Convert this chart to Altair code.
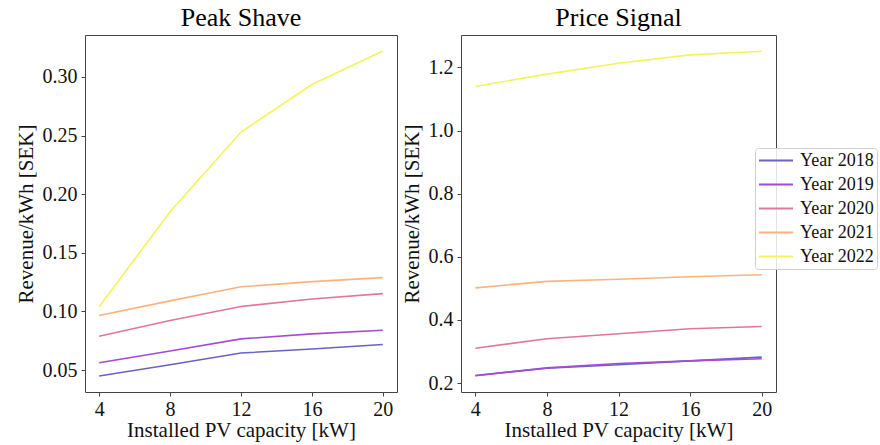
import altair as alt
import pandas as pd

# Installed PV capacity [kW]
capacity = [4, 8, 12, 16, 20]
years = ["Year 2018", "Year 2019", "Year 2020", "Year 2021", "Year 2022"]
colors = ["#6a62c4", "#a64ad6", "#e0769c", "#ffb27c", "#f2f55a"]

# Revenue per kWh [SEK], peak shaving strategy
peak_2018 = [0.045, 0.0545, 0.0645, 0.068, 0.0718]
peak_2019 = [0.0562, 0.0662, 0.0766, 0.0809, 0.084]
peak_2020 = [0.0789, 0.0923, 0.1042, 0.1106, 0.1152]
peak_2021 = [0.0965, 0.109, 0.121, 0.1254, 0.1288]
peak_2022 = [0.104, 0.185, 0.253, 0.2935, 0.322]

# Revenue per kWh [SEK], price signal strategy
price_2018 = [0.224, 0.247, 0.258, 0.270, 0.282]
price_2019 = [0.223, 0.248, 0.262, 0.270, 0.277]
price_2020 = [0.310, 0.3405, 0.356, 0.372, 0.379]
price_2021 = [0.5016, 0.522, 0.529, 0.537, 0.543]
price_2022 = [1.140, 1.179, 1.2136, 1.240, 1.2516]


def to_frame(series):
    rows = []
    for year, vals in zip(years, series):
        for c, v in zip(capacity, vals):
            rows.append({"capacity": c, "revenue": v, "year": year})
    return pd.DataFrame(rows)


peak_df = to_frame([peak_2018, peak_2019, peak_2020, peak_2021, peak_2022])
price_df = to_frame([price_2018, price_2019, price_2020, price_2021, price_2022])

FONT = "Liberation Serif"
H = 357

x_enc = alt.X(
    "capacity:Q",
    scale=alt.Scale(domain=[3.2, 20.8], nice=False, zero=False),
    axis=alt.Axis(values=[4, 8, 12, 16, 20], format="d",
                  title="Installed PV capacity [kW]"),
)


def panel(df, title, domain, ticks, fmt, legend, width):
    color = alt.Color(
        "year:N",
        scale=alt.Scale(domain=years, range=colors),
        legend=legend,
    )
    return (
        alt.Chart(df, title=alt.Title(title, fontSize=26, font=FONT,
                                      fontWeight="normal", offset=4))
        .mark_line(strokeWidth=1.6)
        .encode(
            x=x_enc,
            y=alt.Y(
                "revenue:Q",
                scale=alt.Scale(domain=domain, nice=False, zero=False),
                axis=alt.Axis(values=ticks, format=fmt,
                              title="Revenue/kWh [SEK]"),
            ),
            color=color,
        )
        .properties(width=width, height=H)
    )


left = panel(peak_df, "Peak Shave", [0.0313, 0.3357],
             [0.05, 0.10, 0.15, 0.20, 0.25, 0.30], ".2f", None, 312)

right = panel(
    price_df, "Price Signal", [0.1715, 1.303],
    [0.2, 0.4, 0.6, 0.8, 1.0, 1.2], ".1f",
    alt.Legend(
        orient="none", legendX=294, legendY=113, title=None,
        # wide horizontal stroke as the legend key, drawn to the right
        symbolType="M-1,0H3", symbolSize=289, symbolStrokeWidth=2,
        labelFont=FONT, labelFontSize=18, labelColor="#111", labelOffset=23,
        rowPadding=5, padding=3, cornerRadius=3,
        fillColor="rgba(255,255,255,0.85)", strokeColor="#d0d0d0",
    ),
    315,
)

chart = (
    alt.hconcat(left, right, spacing=2)
    .resolve_legend(color="independent")
    .resolve_scale(color="shared")
    .properties(padding={"left": 14, "top": 4, "right": 0, "bottom": 4})
    .configure_view(stroke="#444", strokeWidth=1)
    .configure_axis(
        grid=False, domain=False,
        tickColor="#444", tickSize=4, tickWidth=1,
        labelFont=FONT, labelFontSize=20, labelColor="#111", labelPadding=4,
        titleFont=FONT, titleFontSize=21, titleFontWeight="normal",
        titleColor="#111",
    )
    .configure_axisX(titlePadding=0, labelPadding=3)
    .configure_axisY(titlePadding=6)
)

chart.save("out.html", embed_options={"renderer": "svg", "actions": False})
